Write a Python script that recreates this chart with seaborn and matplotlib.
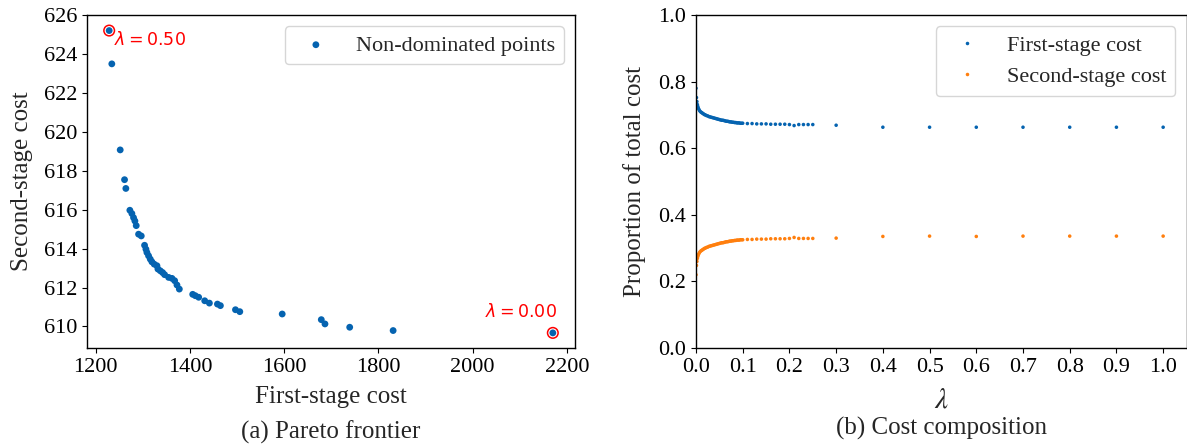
import matplotlib
matplotlib.use("Agg")
import matplotlib.pyplot as plt
import seaborn as sns
import pandas as pd

# ---------------- data ----------------
first_stage_cost = [1228.4, 1234.0, 1251.8, 1261.0, 1263.8, 1272.3, 1276.6, 1280.1, 1283.0, 1285.8,
                    1290.8, 1296.5, 1303.5, 1306.4, 1308.5, 1312.0, 1315.6, 1319.1, 1324.0, 1329.8,
                    1331.9, 1336.9, 1341.8, 1346.1, 1354.6, 1361.7, 1367.4, 1372.3, 1377.3, 1405.7,
                    1411.3, 1418.4, 1431.2, 1441.1, 1458.2, 1464.5, 1496.5, 1505.7, 1595.7, 1678.7,
                    1686.5, 1739.0, 1831.2, 2170.2]
second_stage_cost = [625.20, 623.49, 619.07, 617.54, 617.09, 615.97, 615.80, 615.59, 615.42, 615.18,
                     614.74, 614.65, 614.17, 613.97, 613.80, 613.63, 613.46, 613.32, 613.20, 613.12,
                     612.95, 612.86, 612.77, 612.66, 612.52, 612.47, 612.35, 612.13, 611.92, 611.65,
                     611.58, 611.50, 611.32, 611.20, 611.15, 611.07, 610.86, 610.76, 610.64, 610.35,
                     610.13, 609.96, 609.79, 609.67]
highlight_idx = [0, len(first_stage_cost) - 1]
highlight_labels = [r"$\lambda = 0.50$", r"$\lambda = 0.00$"]
a_xticks = [1200, 1400, 1600, 1800, 2000, 2200]
a_yticks = [610, 612, 614, 616, 618, 620, 622, 624, 626]

lam = [0, 0.001, 0.002, 0.003, 0.004, 0.005, 0.0065, 0.008, 0.01, 0.012, 0.014, 0.016, 0.018, 0.02,
       0.0225, 0.025, 0.0275, 0.03, 0.0325, 0.035, 0.0375, 0.04, 0.0425, 0.045, 0.0475, 0.05,
       0.0525, 0.055, 0.0575, 0.06, 0.0625, 0.065, 0.0675, 0.07, 0.0725, 0.075, 0.0775, 0.08,
       0.0825, 0.085, 0.0875, 0.09, 0.0925, 0.095, 0.0975, 0.1,
       0.11, 0.12, 0.13, 0.14, 0.15, 0.16, 0.17, 0.18, 0.19, 0.20, 0.21, 0.22, 0.23, 0.24, 0.25,
       0.3, 0.4, 0.5, 0.6, 0.7, 0.8, 0.9, 1.0]
first_share = [0.780, 0.752, 0.740, 0.731, 0.725, 0.720, 0.716, 0.712, 0.709, 0.707, 0.705, 0.703,
               0.701, 0.700, 0.698, 0.697, 0.695, 0.694, 0.693, 0.692, 0.691, 0.690, 0.689, 0.688,
               0.687, 0.686, 0.685, 0.684, 0.684, 0.683, 0.682, 0.681, 0.681, 0.680, 0.679, 0.679,
               0.678, 0.678, 0.677, 0.677, 0.676, 0.676, 0.676, 0.675, 0.675, 0.675,
               0.674, 0.674, 0.673, 0.673, 0.673, 0.672, 0.672, 0.672, 0.672, 0.671, 0.668, 0.671,
               0.671, 0.671, 0.671,
               0.669, 0.663, 0.663, 0.663, 0.663, 0.663, 0.663, 0.663]
second_share = [0.220, 0.248, 0.260, 0.269, 0.275, 0.280, 0.284, 0.288, 0.291, 0.293, 0.295, 0.297,
                0.299, 0.300, 0.302, 0.303, 0.305, 0.306, 0.307, 0.308, 0.309, 0.310, 0.311, 0.312,
                0.313, 0.314, 0.315, 0.316, 0.316, 0.317, 0.318, 0.319, 0.319, 0.320, 0.321, 0.321,
                0.322, 0.322, 0.323, 0.323, 0.324, 0.324, 0.324, 0.325, 0.325, 0.325,
                0.326, 0.326, 0.327, 0.327, 0.327, 0.328, 0.328, 0.328, 0.328, 0.329, 0.332, 0.329,
                0.329, 0.329, 0.329,
                0.330, 0.335, 0.336, 0.335, 0.336, 0.336, 0.336, 0.336]
lam_ticks = [0.0, 0.1, 0.2, 0.3, 0.4, 0.5, 0.6, 0.7, 0.8, 0.9, 1.0]
b_yticks = [0.0, 0.2, 0.4, 0.6, 0.8, 1.0]

# ---------------- style ----------------
sns.set_style("ticks")
plt.rcParams["font.family"] = ["Liberation Serif", "DejaVu Serif"]
plt.rcParams["axes.edgecolor"] = "black"
plt.rcParams["xtick.color"] = "black"
plt.rcParams["ytick.color"] = "black"
plt.rcParams["axes.linewidth"] = 1.0
plt.rcParams["legend.frameon"] = True
plt.rcParams["legend.framealpha"] = 0.8
plt.rcParams["legend.edgecolor"] = "0.8"
plt.rcParams["legend.fancybox"] = True

BLUE = "#0563b0"
ORANGE = "#ff7f0e"
FS_TICK = 16
FS_LAB = 18
FS_LEG = 16

fig = plt.figure(figsize=(11.87, 4.46), dpi=100)
ax1 = fig.add_axes([87 / 1187, 1 - 348 / 446, 488 / 1187, 333 / 446])
ax2 = fig.add_axes([696 / 1187, 1 - 348 / 446, 490.5 / 1187, 333 / 446])

# ---------------- (a) Pareto frontier ----------------
df_a = pd.DataFrame({"first": first_stage_cost, "second": second_stage_cost})
sns.scatterplot(data=df_a, x="first", y="second", ax=ax1, color=BLUE, s=24,
                edgecolor="none", linewidth=0, label="Non-dominated points")
df_h = df_a.iloc[highlight_idx]
sns.scatterplot(data=df_h, x="first", y="second", ax=ax1, s=58, facecolor="none",
                edgecolor="red", linewidth=1.1, legend=False)
offsets = [((3.2, -6.8), "left"), ((2.7, 15.1), "right")]
for (i, txt), (off, ha) in zip(zip(highlight_idx, highlight_labels), offsets):
    ax1.annotate(txt, xy=(first_stage_cost[i], second_stage_cost[i]), xytext=off,
                 textcoords="offset points", ha=ha, va="center", color="red",
                 fontsize=12.5, family="DejaVu Sans", math_fontfamily="dejavusans")
ax1.set_xticks(a_xticks)
ax1.set_xticklabels([str(t) for t in a_xticks])
ax1.set_yticks(a_yticks)
ax1.set_yticklabels([str(t) for t in a_yticks])
ax1.set_xlabel("First-stage cost", fontsize=FS_LAB, labelpad=7)
ax1.set_ylabel("Second-stage cost", fontsize=FS_LAB, labelpad=8)
ax1.tick_params(labelsize=FS_TICK)
ax1.legend(loc="upper right", fontsize=FS_LEG, borderaxespad=0.5)
for sp in ax1.spines.values():
    sp.set_visible(True)

# ---------------- (b) Cost composition ----------------
df_b = pd.DataFrame({"lam": lam + lam,
                     "share": first_share + second_share,
                     "part": ["First-stage cost"] * len(lam) + ["Second-stage cost"] * len(lam)})
sns.scatterplot(data=df_b, x="lam", y="share", hue="part", ax=ax2,
                palette=[BLUE, ORANGE], s=6.5, edgecolor="none", linewidth=0)
ax2.set_xlim(0, 1.05)
ax2.set_ylim(0, 1.0)
ax2.set_xticks(lam_ticks)
ax2.set_xticklabels([f"{t:.1f}" for t in lam_ticks])
ax2.set_yticks(b_yticks)
ax2.set_yticklabels([f"{t:.1f}" for t in b_yticks])
ax2.tick_params(labelsize=FS_TICK)
ax2.set_xlabel(r"$\lambda$", fontsize=21, labelpad=8, math_fontfamily="stix")
ax2.set_ylabel("Proportion of total cost", fontsize=FS_LAB, labelpad=9)
ax2.legend(loc="upper right", fontsize=FS_LEG, borderaxespad=0.5, title=None)
for sp in ax2.spines.values():
    sp.set_visible(True)

# captions
fig.text((87 + 575) / 2 / 1187, 1 - 432 / 446, "(a) Pareto frontier", ha="center",
         va="center", fontsize=FS_LAB)
fig.text((696 + 1187) / 2 / 1187, 1 - 428 / 446, "(b) Cost composition", ha="center",
         va="center", fontsize=FS_LAB)

fig.savefig("out.png", dpi=100)
